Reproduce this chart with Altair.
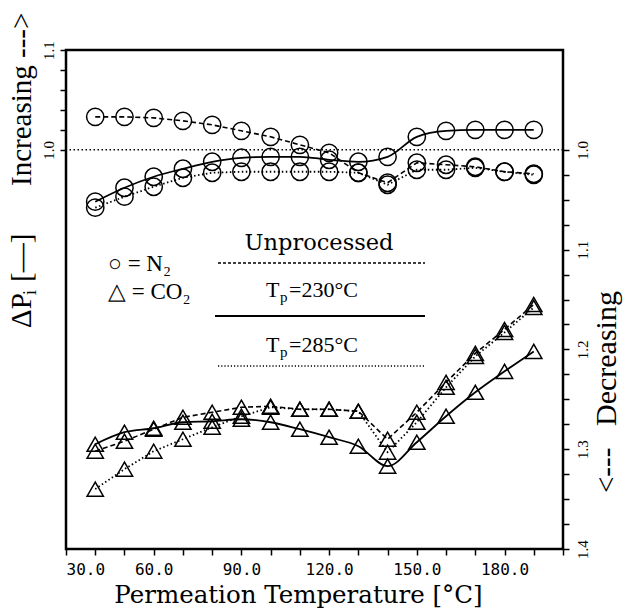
import altair as alt
import pandas as pd

# ---------------- data ----------------
temps = [40, 50, 60, 70, 80, 90, 100, 110, 120, 130, 140, 150, 160, 170, 180, 190]

n2_unprocessed = [1.033, 1.033, 1.032, 1.029, 1.025, 1.019, 1.013, 1.005, 0.997, 0.977,
                  0.967, 0.987, 0.985, 0.983, 0.978, 0.976]
n2_tp230 = [0.948, 0.962, 0.973, 0.981, 0.988, 0.992, 0.993, 0.993, 0.990, 0.988,
            0.993, 1.013, 1.019, 1.020, 1.020, 1.020]
n2_tp285 = [0.942, 0.953, 0.963, 0.972, 0.977, 0.978, 0.978, 0.978, 0.978, 0.977,
            0.965, 0.980, 0.980, 0.982, 0.978, 0.975]

co2_unprocessed = [0.698, 0.708, 0.720, 0.732, 0.737, 0.742, 0.743, 0.740, 0.740, 0.738,
                   0.710, 0.737, 0.767, 0.796, 0.820, 0.845]
co2_tp230 = [0.705, 0.717, 0.721, 0.727, 0.728, 0.730, 0.727, 0.720, 0.712, 0.703,
             0.683, 0.707, 0.733, 0.757, 0.778, 0.798]
co2_tp285 = [0.660, 0.680, 0.698, 0.710, 0.722, 0.733, 0.742, 0.740, 0.740, 0.738,
             0.697, 0.727, 0.762, 0.793, 0.817, 0.842]

x_ticks = list(range(30, 201, 10))
left_ticks = [1.0, 1.02, 1.04, 1.06, 1.08, 1.1]
right_ticks = [round(0.6 + 0.025 * k, 3) for k in range(17)]

series = [
    ("N2", "Unprocessed", n2_unprocessed),
    ("N2", "Tp230", n2_tp230),
    ("N2", "Tp285", n2_tp285),
    ("CO2", "Unprocessed", co2_unprocessed),
    ("CO2", "Tp230", co2_tp230),
    ("CO2", "Tp285", co2_tp285),
]
rows = []
for gas, proc, vals in series:
    for t, v in zip(temps, vals):
        rows.append({"T": t, "dP": v, "gas": gas, "proc": proc})
df = pd.DataFrame(rows)

# ---------------- geometry / style ----------------
W, H = 497, 499
OX, OY = 66, 50  # plot origin in page pixels

SERIF = "Liberation Serif"
SLAB = "DejaVu Serif"
MONO = "DejaVu Sans Mono"

xscale = alt.Scale(domain=[30, 200], nice=False, zero=False)
yscale = alt.Scale(domain=[0.6, 1.1], nice=False, zero=False)

x_axis = alt.Axis(
    values=x_ticks,
    labelExpr="(datum.value % 30 == 0 && datum.value <= 180) ? format(datum.value, '.1f') : ''",
    labelFlush=True, labelOverlap=False,
    labelFont=MONO, labelFontSize=16, labelColor="black", labelPadding=6,
    tickSize=6, tickWidth=1.5, tickColor="black",
    domain=False, grid=False,
    title="Permeation Temperature [°C]", titleFont=SLAB, titleFontSize=24.5,
    titleFontWeight="normal", titleColor="black",
    titleX=232, titleY=53, titleBaseline="alphabetic", titleAnchor="middle",
)

y_axis_left = alt.Axis(
    values=left_ticks,
    labelExpr="abs(datum.value-1.1)<1e-6 ? '1.1' : (abs(datum.value-1.0)<1e-6 ? '1.0' : '')",
    labelOverlap=False, labelAngle=270, labelAlign="center", labelBaseline="bottom",
    labelFont=SERIF, labelFontSize=15, labelColor="black", labelPadding=4,
    tickSize=6, tickWidth=1.5, tickColor="black",
    domain=False, grid=False, title=None,
)

y_axis_right = alt.Axis(
    orient="right",
    values=right_ticks,
    labelExpr="(datum.value <= 1.0001 && abs(round((2-datum.value)*10) - (2-datum.value)*10) < 0.01) ? format(2-datum.value, '.1f') : ''",
    labelOverlap=False, labelAngle=270, labelAlign="center", labelBaseline="top",
    labelFont=SERIF, labelFontSize=15, labelColor="black", labelPadding=6,
    tickSize=6, tickWidth=1.5, tickColor="black",
    domain=False, grid=False, title=None,
)

base = alt.Chart(df)
X = alt.X("T:Q", scale=xscale, axis=x_axis)
Y = alt.Y("dP:Q", scale=yscale, axis=y_axis_left)

dash_styles = {
    "Unprocessed": dict(strokeDash=[5, 3], strokeWidth=1.6),
    "Tp230": dict(strokeWidth=1.8),
    "Tp285": dict(strokeDash=[1.5, 2.5], strokeWidth=1.8),
}

layers = []

# reference line at 1.0
ref = alt.Chart(pd.DataFrame({"dP": [1.0]})).mark_rule(
    color="black", strokeDash=[1.5, 2.5], strokeWidth=1.6
).encode(y=Y)
layers.append(ref)

for proc, st in dash_styles.items():
    interp = "monotone" if proc == "Tp230" else "linear"
    ln = base.transform_filter(alt.datum.proc == proc).mark_line(
        color="black", interpolate=interp, **st
    ).encode(x=X, y=Y, detail="gas:N")
    layers.append(ln)

circles = base.transform_filter(alt.datum.gas == "N2").mark_point(
    shape="circle", filled=False, color="black", size=300, strokeWidth=1.5, opacity=1
).encode(x=X, y=Y)
tris = base.transform_filter(alt.datum.gas == "CO2").mark_point(
    shape="triangle-up", filled=False, color="black", size=265, strokeWidth=1.5, opacity=1
).encode(x=X, y=Y)
layers += [circles, tris]

one = pd.DataFrame({"k": [0]})


def txt(s, px, py, size=20, font=SERIF, align="left", baseline="alphabetic", angle=0):
    kw = dict(text=s, font=font, fontSize=size, align=align, baseline=baseline, color="black")
    if angle:
        kw["angle"] = angle
    return alt.Chart(one).mark_text(**kw).encode(
        x=alt.value(px - OX), y=alt.value(py - OY)
    )


def hline(x1, x2, py, **st):
    return alt.Chart(one).mark_rule(color="black", **st).encode(
        x=alt.value(x1 - OX), x2=alt.value(x2 - OX), y=alt.value(py - OY)
    )


# in-plot legend
layers += [
    txt("Unprocessed", 319, 250, size=22.5, font=SLAB, align="center"),
    hline(218, 425, 263, strokeDash=[3, 2], strokeWidth=1.6),
    txt("○ = N₂", 108, 271, size=23),
    txt("△ = CO₂", 108, 299, size=23),
    txt("T", 266, 297, size=22),
    txt("p", 280, 302, size=15),
    txt("=230°C", 289, 297, size=22),
    hline(215, 425, 316, strokeWidth=1.8),
    txt("T", 266, 352, size=22),
    txt("p", 280, 357, size=15),
    txt("=285°C", 289, 352, size=22),
    hline(218, 425, 366, strokeDash=[1.2, 2], strokeWidth=1.6),
]

# rotated side titles
layers += [
    txt("Increasing --->", 22, 186, size=29, align="left", baseline="middle", angle=270),
    txt("ΔP", 22, 328, size=29, align="left", baseline="middle", angle=270),
    txt("i", 31, 295, size=18, align="left", baseline="middle", angle=270),
    txt("[—]", 22, 282, size=29, align="left", baseline="middle", angle=270),
    txt("<---", 607, 493, size=29, align="left", baseline="middle", angle=270),
    txt("Decreasing", 607, 426, size=30, align="left", baseline="middle", angle=270),
]

main = alt.layer(*layers)

right_dummy = alt.Chart(pd.DataFrame({"dP": [1.0]})).mark_point(opacity=0).encode(
    y=alt.Y("dP:Q", scale=yscale, axis=y_axis_right)
)

chart = alt.layer(main, right_dummy).resolve_scale(y="independent").properties(
    width=W, height=H,
    autosize=alt.AutoSizeParams(type="none"),
    padding={"left": OX, "top": OY, "right": 625 - OX - W, "bottom": 608 - OY - H},
    background="white",
).configure_view(stroke="black", strokeWidth=2.5)

chart.save("out.html", embed_options={"renderer": "svg", "actions": False})
